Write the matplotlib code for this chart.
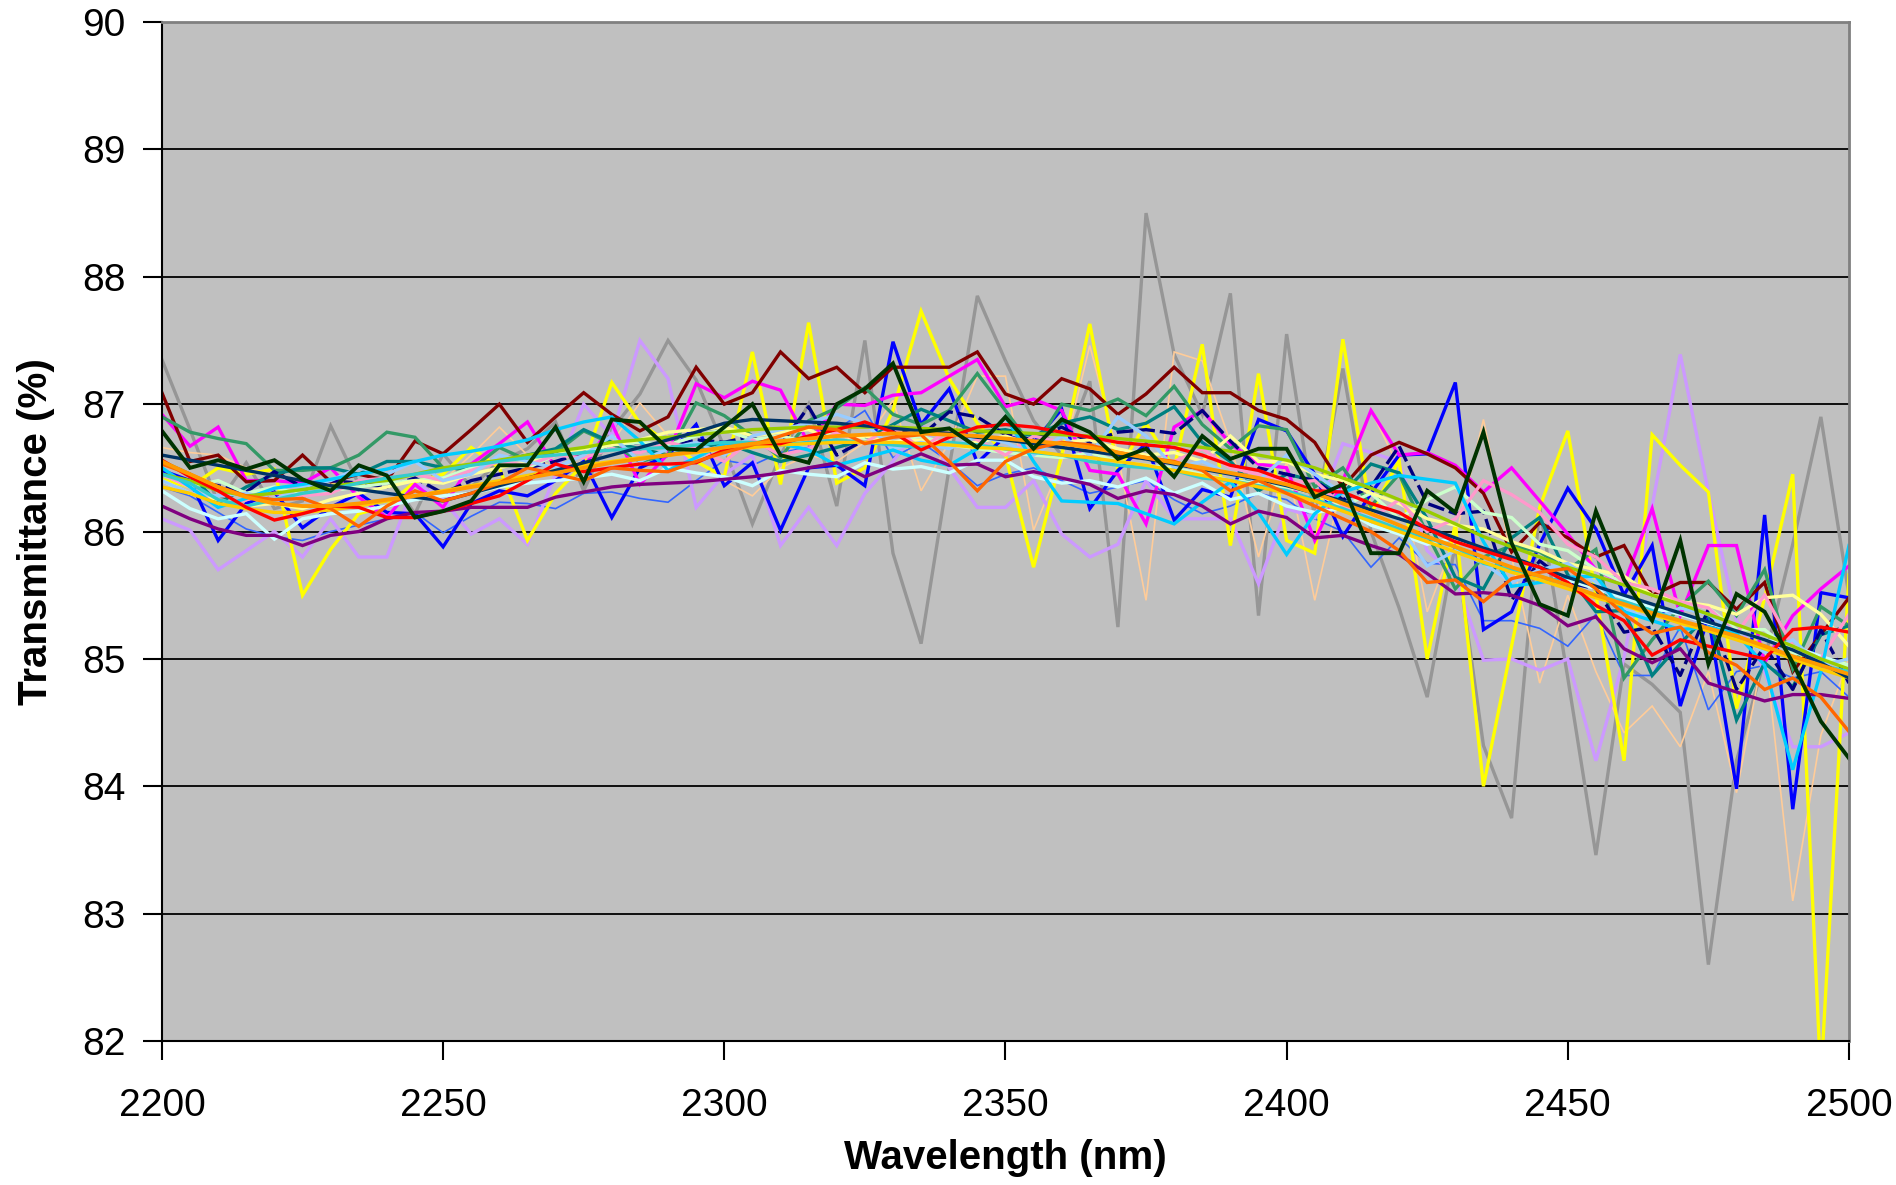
"""
NIR transmittance spectra, 2200-2500 nm.

Many overlaid sample spectra on an Excel-style grey plot area.
"""

import numpy as np
import matplotlib
import matplotlib.pyplot as plt

matplotlib.use("Agg")

# wavelength axis (nm), one reading every 5 nm
wavelength = np.arange(2200, 2501, 5)

# --- noisy spectra ---
gray = [
    87.35, 86.80, 86.22, 86.54, 86.18, 86.24, 86.83, 86.37, 86.45, 86.14,
    86.61, 86.35, 86.55, 86.65, 86.86, 86.32, 86.80, 87.08, 87.50, 87.19,
    86.66, 86.06, 86.60, 87.00, 86.20, 87.50, 85.83, 85.12, 86.50, 87.85,
    87.34, 86.87, 86.60, 87.18, 85.25, 88.50, 87.39, 86.92, 87.87, 85.34,
    87.55, 86.10, 87.28, 86.00, 85.40, 84.70, 85.90, 84.32, 83.75, 86.19,
    84.85, 83.46, 84.96, 84.80, 84.58, 82.60, 84.20, 85.00, 85.90, 86.90,
    85.50,
]
yellow = [
    86.41, 86.35, 86.50, 86.45, 86.49, 85.50, 85.86, 86.14, 86.20, 86.39,
    86.45, 86.66, 86.50, 85.93, 86.30, 86.53, 87.17, 86.85, 86.70, 86.55,
    86.43, 87.41, 86.37, 87.64, 86.38, 86.50, 86.95, 87.73, 87.20, 86.85,
    86.60, 85.72, 86.60, 87.63, 86.48, 86.85, 86.50, 87.47, 85.89, 87.24,
    85.93, 85.83, 87.51, 86.14, 86.56, 85.00, 86.06, 84.00, 85.10, 86.19,
    86.79, 85.50, 84.20, 86.76, 86.52, 86.31, 84.61, 85.48, 86.45, 81.70,
    85.66,
]
blue = [
    86.48, 86.40, 85.93, 86.22, 86.31, 86.03, 86.19, 86.30, 86.15, 86.14,
    85.88, 86.22, 86.32, 86.28, 86.40, 86.55, 86.11, 86.50, 86.60, 86.84,
    86.36, 86.54, 86.01, 86.50, 86.52, 86.36, 87.49, 86.84, 87.12, 86.54,
    86.75, 86.70, 86.96, 86.18, 86.48, 86.69, 86.09, 86.33, 86.27, 86.88,
    86.79, 86.45, 85.96, 86.30, 86.60, 86.61, 87.17, 85.23, 85.37, 85.90,
    86.34, 86.02, 85.50, 85.89, 84.63, 85.33, 83.98, 86.13, 83.82, 85.52,
    85.48,
]
dark_green = [
    86.79, 86.50, 86.56, 86.49, 86.56, 86.41, 86.32, 86.52, 86.44, 86.11,
    86.16, 86.24, 86.52, 86.52, 86.82, 86.39, 86.88, 86.86, 86.65, 86.64,
    86.82, 87.00, 86.60, 86.54, 87.00, 87.12, 87.32, 86.78, 86.81, 86.66,
    86.90, 86.65, 86.88, 86.78, 86.57, 86.65, 86.43, 86.75, 86.57, 86.65,
    86.65, 86.27, 86.37, 85.83, 85.83, 86.32, 86.15, 86.78, 85.91, 85.43,
    85.34, 86.16, 85.62, 85.30, 85.93, 84.96, 85.51, 85.37, 84.97, 84.51,
    84.22,
]
maroon = [
    87.09, 86.55, 86.60, 86.39, 86.40, 86.60, 86.39, 86.45, 86.40, 86.71,
    86.61, 86.80, 87.00, 86.70, 86.90, 87.09, 86.92, 86.79, 86.90, 87.29,
    87.00, 87.09, 87.41, 87.20, 87.29, 87.09, 87.29, 87.29, 87.29, 87.41,
    87.08, 87.00, 87.20, 87.12, 86.92, 87.08, 87.29, 87.09, 87.09, 86.95,
    86.88, 86.70, 86.35, 86.60, 86.70, 86.61, 86.50, 86.30, 85.84, 86.07,
    85.95, 85.80, 85.89, 85.50, 85.60, 85.60, 85.39, 85.60, 84.90, 85.19,
    85.48,
]
magenta = [
    86.92, 86.67, 86.82, 86.40, 86.40, 86.38, 86.50, 86.27, 86.11, 86.37,
    86.19, 86.53, 86.69, 86.86, 86.50, 86.50, 86.85, 86.37, 86.61, 87.16,
    87.05, 87.18, 87.11, 86.69, 87.00, 86.99, 87.07, 87.09, 87.22, 87.35,
    86.98, 87.04, 86.95, 86.48, 86.45, 86.06, 86.82, 86.95, 86.69, 86.53,
    86.50, 85.93, 86.40, 86.95, 86.60, 86.62, 86.52, 86.31, 86.50, 86.24,
    85.98, 85.70, 85.59, 86.18, 85.34, 85.89, 85.89, 84.97, 85.34, 85.55,
    85.73,
]
lavender = [
    86.10, 86.01, 85.70, 85.85, 86.00, 85.80, 86.10, 85.80, 85.80, 86.39,
    86.25, 85.98, 86.10, 85.90, 86.45, 87.00, 86.75, 87.50, 87.20, 86.19,
    86.45, 86.60, 85.89, 86.19, 85.89, 86.30, 86.55, 86.85, 86.50, 86.19,
    86.19, 86.40, 85.98, 85.80, 85.90, 86.40, 86.10, 86.10, 86.10, 85.59,
    86.18, 86.11, 86.69, 86.62, 86.55, 85.85, 85.65, 84.99, 85.00, 84.91,
    85.00, 84.20, 85.01, 86.20, 87.39, 86.31, 85.30, 84.90, 84.31, 84.31,
    84.42,
]
sea_green = [
    86.90, 86.78, 86.73, 86.69, 86.48, 86.48, 86.50, 86.60, 86.78, 86.74,
    86.50, 86.49, 86.66, 86.56, 86.62, 86.79, 86.69, 86.55, 86.60, 87.01,
    86.91, 86.75, 86.58, 86.87, 86.97, 87.13, 86.92, 86.84, 86.95, 87.24,
    86.95, 86.65, 87.00, 86.95, 87.04, 86.91, 87.14, 86.84, 86.65, 86.83,
    86.80, 86.35, 86.50, 86.20, 86.45, 85.98, 85.55, 85.80, 85.89, 85.84,
    85.70, 85.86, 84.85, 85.15, 85.41, 85.61, 85.34, 85.70, 84.92, 85.41,
    85.26,
]
teal = [
    86.55, 86.45, 86.22, 86.35, 86.45, 86.50, 86.50, 86.45, 86.55, 86.55,
    86.50, 86.50, 86.55, 86.60, 86.65, 86.80, 86.70, 86.65, 86.60, 86.65,
    86.70, 86.62, 86.55, 86.60, 86.66, 86.72, 86.84, 86.96, 86.87, 86.78,
    86.80, 86.75, 86.85, 86.90, 86.80, 86.85, 86.98, 86.70, 86.55, 86.32,
    86.45, 86.40, 86.30, 86.53, 86.46, 86.10, 85.64, 85.55, 85.95, 86.11,
    85.66, 85.37, 85.38, 84.87, 85.12, 85.35, 84.52, 84.97, 84.78, 85.19,
    85.26,
]
navy = [
    86.45, 86.40, 86.36, 86.31, 86.47, 86.35, 86.40, 86.38, 86.35, 86.42,
    86.30, 86.40, 86.45, 86.50, 86.55, 86.62, 86.68, 86.70, 86.66, 86.72,
    86.70, 86.75, 86.68, 86.98, 86.60, 86.72, 86.80, 86.75, 86.94, 86.90,
    86.76, 86.72, 86.82, 86.70, 86.78, 86.80, 86.77, 86.95, 86.71, 86.50,
    86.45, 86.40, 86.25, 86.35, 86.67, 86.22, 86.14, 86.16, 85.46, 85.77,
    85.60, 85.55, 85.21, 85.25, 84.87, 85.39, 84.76, 85.10, 84.76, 85.23,
    84.81,
]
peach = [
    86.66, 86.62, 86.60, 86.50, 86.45, 86.40, 86.38, 86.35, 86.45, 86.55,
    86.40, 86.60, 86.82, 86.60, 86.50, 86.55, 86.70, 87.01, 86.75, 86.55,
    86.40, 86.28, 86.50, 86.60, 86.55, 86.70, 87.03, 86.32, 86.70, 87.22,
    87.22, 86.01, 86.55, 87.46, 86.60, 85.46, 87.41, 87.34, 86.70, 85.80,
    86.55, 85.46, 86.40, 86.95, 86.50, 85.37, 85.95, 86.88, 85.80, 84.81,
    85.50, 84.90, 84.42, 84.63, 84.31, 84.90, 83.95, 85.10, 83.10, 84.40,
    85.00,
]
royal_blue = [
    86.35, 86.28, 86.15, 86.02, 85.96, 85.93, 86.00, 86.05, 86.10, 86.15,
    85.99, 86.12, 86.23, 86.22, 86.18, 86.30, 86.31, 86.26, 86.23, 86.40,
    86.56, 86.52, 86.62, 86.66, 86.80, 86.95, 86.58, 86.70, 86.55, 86.36,
    86.45, 86.50, 86.40, 86.30, 86.35, 86.40, 86.25, 86.14, 86.20, 86.30,
    86.25, 86.10, 86.00, 85.72, 85.95, 85.75, 85.74, 85.30, 85.30, 85.24,
    85.10, 85.35, 84.87, 84.87, 85.25, 84.60, 84.90, 84.95, 84.85, 84.90,
    84.70,
]

# --- smoother spectra ---
red = [
    86.56, 86.43, 86.32, 86.19, 86.09, 86.14, 86.20, 86.19, 86.11, 86.11,
    86.16, 86.22, 86.28, 86.40, 86.53, 86.47, 86.50, 86.53, 86.53, 86.54,
    86.64, 86.69, 86.69, 86.75, 86.80, 86.86, 86.78, 86.64, 86.74, 86.82,
    86.84, 86.82, 86.78, 86.74, 86.70, 86.68, 86.66, 86.60, 86.52, 86.48,
    86.40, 86.32, 86.31, 86.22, 86.15, 86.02, 85.92, 85.85, 85.78, 85.72,
    85.60, 85.42, 85.30, 85.03, 85.15, 85.10, 85.05, 85.00, 85.23, 85.25,
    85.21,
]
dark_orange = [
    86.53, 86.45, 86.35, 86.28, 86.25, 86.26, 86.18, 86.04, 86.20, 86.32,
    86.24, 86.30, 86.38, 86.50, 86.45, 86.40, 86.50, 86.48, 86.47, 86.55,
    86.62, 86.68, 86.75, 86.82, 86.80, 86.69, 86.74, 86.76, 86.55, 86.32,
    86.55, 86.65, 86.70, 86.68, 86.62, 86.58, 86.55, 86.48, 86.32, 86.40,
    86.30, 86.20, 86.10, 86.00, 85.85, 85.60, 85.62, 85.45, 85.63, 85.68,
    85.71, 85.55, 85.35, 85.20, 85.25, 85.05, 84.95, 84.76, 84.85, 84.70,
    84.43,
]
dark_slate = [
    86.60, 86.56, 86.52, 86.48, 86.44, 86.40, 86.36, 86.33, 86.30, 86.27,
    86.24, 86.30, 86.36, 86.42, 86.48, 86.54, 86.60, 86.66, 86.72, 86.78,
    86.85, 86.88, 86.87, 86.86, 86.85, 86.83, 86.81, 86.79, 86.77, 86.74,
    86.72, 86.69, 86.66, 86.63, 86.60, 86.57, 86.53, 86.49, 86.45, 86.41,
    86.36, 86.30, 86.24, 86.17, 86.10, 86.03, 85.95, 85.87, 85.80, 85.72,
    85.64, 85.57, 85.50, 85.43, 85.36, 85.29, 85.22, 85.15, 85.07, 84.97,
    84.85,
]
purple = [
    86.20, 86.10, 86.02, 85.97, 85.97, 85.89, 85.97, 86.00, 86.10, 86.15,
    86.16, 86.19, 86.19, 86.19, 86.27, 86.31, 86.35, 86.37, 86.38, 86.39,
    86.41, 86.43, 86.46, 86.50, 86.54, 86.43, 86.52, 86.61, 86.52, 86.53,
    86.43, 86.47, 86.42, 86.37, 86.26, 86.32, 86.29, 86.20, 86.06, 86.16,
    86.11, 85.95, 85.97, 85.89, 85.82, 85.67, 85.51, 85.52, 85.50, 85.42,
    85.26, 85.33, 85.08, 84.97, 85.08, 84.81, 84.74, 84.67, 84.72, 84.72,
    84.69,
]
light_cyan = [
    86.32, 86.18, 86.10, 86.14, 85.94, 86.10, 86.14, 86.16, 86.20, 86.25,
    86.28, 86.30, 86.35, 86.38, 86.40, 86.42, 86.45, 86.40, 86.50, 86.46,
    86.43, 86.36, 86.48, 86.45, 86.43, 86.54, 86.49, 86.51, 86.46, 86.56,
    86.56, 86.43, 86.38, 86.40, 86.35, 86.42, 86.30, 86.38, 86.25, 86.30,
    86.20, 86.15, 86.18, 86.05, 85.98, 85.90, 85.95, 85.85, 85.80, 85.72,
    85.62, 85.55, 85.48, 85.40, 85.35, 85.28, 85.22, 85.15, 85.10, 85.02,
    84.95,
]
sky_blue = [
    86.50, 86.35, 86.19, 86.26, 86.34, 86.37, 86.41, 86.45, 86.49, 86.55,
    86.60, 86.63, 86.67, 86.72, 86.80, 86.86, 86.90, 86.71, 86.48, 86.58,
    86.69, 86.69, 86.69, 86.64, 86.52, 86.58, 86.64, 86.56, 86.52, 86.65,
    86.90, 86.55, 86.24, 86.23, 86.22, 86.14, 86.06, 86.23, 86.39, 86.15,
    85.82, 86.14, 86.31, 86.38, 86.44, 86.41, 86.38, 85.92, 85.57, 85.60,
    85.64, 85.65, 85.37, 85.30, 85.23, 85.25, 85.20, 84.95, 84.13, 84.90,
    85.89,
]
yellow_green = [
    86.45, 86.40, 86.32, 86.28, 86.30, 86.33, 86.36, 86.38, 86.40, 86.45,
    86.50, 86.53, 86.56, 86.60, 86.63, 86.66, 86.70, 86.72, 86.74, 86.76,
    86.78, 86.80, 86.81, 86.82, 86.82, 86.82, 86.82, 86.81, 86.80, 86.79,
    86.78, 86.77, 86.76, 86.75, 86.73, 86.71, 86.69, 86.66, 86.63, 86.60,
    86.56, 86.50, 86.42, 86.34, 86.25, 86.16, 86.06, 85.96, 85.88, 85.80,
    85.72, 85.65, 85.58, 85.50, 85.43, 85.35, 85.27, 85.19, 85.10, 85.00,
    84.92,
]
light_yellow = [
    86.40, 86.30, 86.25, 86.20, 86.22, 86.18, 86.25, 86.30, 86.35, 86.40,
    86.38, 86.45, 86.50, 86.55, 86.60, 86.65, 86.68, 86.72, 86.78, 86.80,
    86.82, 86.75, 86.78, 86.80, 86.70, 86.75, 86.70, 86.72, 86.68, 86.70,
    86.75, 86.68, 86.70, 86.72, 86.65, 86.60, 86.62, 86.55, 86.75, 86.55,
    86.55, 86.45, 86.40, 86.30, 86.22, 86.10, 86.05, 86.02, 85.92, 85.85,
    85.75, 85.70, 85.65, 85.50, 85.45, 85.42, 85.35, 85.48, 85.50, 85.35,
    85.10,
]
pink = [
    86.45, 86.35, 86.20, 86.25, 86.30, 86.28, 86.30, 86.40, 86.42, 86.45,
    86.40, 86.48, 86.55, 86.52, 86.60, 86.58, 86.65, 86.62, 86.70, 86.65,
    86.55, 86.72, 86.60, 86.65, 86.78, 86.70, 86.82, 86.65, 86.80, 86.72,
    86.60, 86.75, 86.70, 86.65, 86.62, 86.58, 86.55, 86.65, 86.50, 86.45,
    86.38, 86.40, 86.20, 86.10, 86.25, 86.00, 86.10, 86.40, 86.29, 86.15,
    85.90, 85.80, 85.60, 85.55, 85.45, 85.40, 85.20, 85.50, 85.10, 85.00,
    85.35,
]
light_blue = [
    86.40, 86.30, 86.28, 86.30, 86.25, 86.35, 86.40, 86.50, 86.45, 86.55,
    86.40, 86.45, 86.60, 86.55, 86.50, 86.60, 86.75, 86.55, 86.65, 86.70,
    86.60, 86.75, 86.80, 86.85, 86.92, 86.85, 86.65, 86.70, 86.65, 86.75,
    86.70, 86.60, 86.75, 86.60, 86.90, 86.75, 86.50, 86.55, 86.45, 86.40,
    86.60, 86.45, 86.30, 86.10, 86.05, 85.73, 85.85, 85.75, 85.60, 85.70,
    85.75, 85.60, 85.40, 85.30, 85.40, 85.35, 85.20, 85.05, 85.15, 84.95,
    85.00,
]
pale_green = [
    86.45, 86.35, 86.40, 86.30, 86.35, 86.28, 86.32, 86.35, 86.38, 86.40,
    86.42, 86.50, 86.55, 86.50, 86.60, 86.62, 86.68, 86.70, 86.68, 86.75,
    86.80, 86.72, 86.75, 86.70, 86.78, 86.72, 86.70, 86.75, 86.68, 86.65,
    86.62, 86.60, 86.58, 86.62, 86.55, 86.52, 86.50, 86.45, 86.40, 86.38,
    86.35, 86.30, 86.20, 86.30, 86.10, 86.25, 86.35, 86.15, 86.11, 85.90,
    85.85, 85.70, 85.60, 85.50, 85.45, 85.40, 85.23, 85.23, 85.05, 85.00,
    84.95,
]
gold = [
    86.35, 86.30, 86.22, 86.18, 86.15, 86.15, 86.17, 86.20, 86.24, 86.28,
    86.32, 86.36, 86.40, 86.44, 86.48, 86.52, 86.55, 86.58, 86.60, 86.62,
    86.65, 86.66, 86.68, 86.69, 86.70, 86.70, 86.70, 86.69, 86.68, 86.66,
    86.65, 86.63, 86.60, 86.58, 86.55, 86.52, 86.48, 86.44, 86.40, 86.35,
    86.30, 86.24, 86.16, 86.08, 86.00, 85.92, 85.84, 85.76, 85.68, 85.62,
    85.55, 85.48, 85.42, 85.35, 85.28, 85.22, 85.15, 85.08, 85.00, 84.92,
    84.85,
]
turquoise = [
    86.45, 86.38, 86.25, 86.20, 86.25, 86.30, 86.33, 86.38, 86.42, 86.45,
    86.48, 86.52, 86.55, 86.58, 86.60, 86.62, 86.64, 86.65, 86.66, 86.68,
    86.70, 86.70, 86.68, 86.70, 86.72, 86.70, 86.68, 86.66, 86.70, 86.68,
    86.65, 86.62, 86.60, 86.55, 86.52, 86.50, 86.48, 86.42, 86.40, 86.36,
    86.32, 86.25, 86.18, 86.10, 86.02, 85.95, 85.88, 85.75, 85.70, 85.65,
    85.58, 85.50, 85.45, 85.38, 85.30, 85.22, 85.16, 85.08, 85.00, 84.95,
    84.90,
]
orange = [
    86.55, 86.45, 86.35, 86.27, 86.22, 86.20, 86.20, 86.22, 86.25, 86.28,
    86.31, 86.35, 86.38, 86.42, 86.46, 86.50, 86.54, 86.57, 86.60, 86.63,
    86.66, 86.69, 86.71, 86.73, 86.75, 86.76, 86.77, 86.77, 86.76, 86.75,
    86.73, 86.71, 86.69, 86.66, 86.62, 86.58, 86.54, 86.50, 86.46, 86.42,
    86.37, 86.30, 86.22, 86.14, 86.05, 85.96, 85.88, 85.80, 85.72, 85.65,
    85.58, 85.50, 85.43, 85.36, 85.30, 85.24, 85.18, 85.10, 85.02, 84.95,
    84.88,
]

y_ticks = [82, 83, 84, 85, 86, 87, 88, 89, 90]
x_ticks = [2200, 2250, 2300, 2350, 2400, 2450, 2500]

FONT = ["Liberation Sans", "DejaVu Sans"]


def plot_spectra(save_path="out.png"):
    """Overlay all spectra in drawing order (later = on top)."""
    # (series, colour, linewidth, linestyle)
    series = [
        (gray, "#969696", 2.4, "-"),
        (peach, "#FFCC99", 1.2, "-"),
        (royal_blue, "#3366FF", 1.2, "-"),
        (lavender, "#CC99FF", 2.4, "-"),
        (yellow, "#FFFF00", 2.4, "-"),
        (blue, "#0000FF", 2.4, "-"),
        (magenta, "#FF00FF", 2.4, "-"),
        (maroon, "#800000", 2.4, "-"),
        (sea_green, "#339966", 2.4, "-"),
        (teal, "#008080", 2.4, "-"),
        (navy, "#000080", 2.4, (0, (5, 1.5))),
        (light_cyan, "#CCFFFF", 2.4, "-"),
        (pale_green, "#CCFFCC", 2.4, "-"),
        (light_yellow, "#FFFF99", 2.4, "-"),
        (pink, "#FF99CC", 2.4, "-"),
        (light_blue, "#99CCFF", 2.4, "-"),
        (sky_blue, "#00CCFF", 2.4, "-"),
        (purple, "#800080", 2.4, "-"),
        (yellow_green, "#99CC00", 2.4, "-"),
        (turquoise, "#33CCCC", 2.4, "-"),
        (gold, "#FFCC00", 2.4, "-"),
        (dark_slate, "#003366", 2.4, "-"),
        (red, "#FF0000", 2.4, "-"),
        (dark_orange, "#FF6600", 2.4, "-"),
        (orange, "#FF9900", 2.8, "-"),
        (dark_green, "#003300", 2.8, "-"),
    ]

    fig, ax = plt.subplots(figsize=(18.96, 11.85), dpi=100)
    fig.subplots_adjust(left=0.0854, right=0.9752, top=0.9814, bottom=0.1215)
    ax.set_facecolor("#C0C0C0")

    for values, color, lw, ls in series:
        ax.plot(wavelength, values, color=color, linewidth=lw, linestyle=ls,
                solid_joinstyle="miter")

    ax.set_xlim(2200, 2500)
    ax.set_ylim(82, 90)
    ax.set_xticks(x_ticks)
    ax.set_yticks(y_ticks)
    ax.grid(axis="y", color="black", linewidth=1.3)
    ax.set_axisbelow(True)

    for side in ("left", "bottom"):
        ax.spines[side].set_color("black")
        ax.spines[side].set_linewidth(1.5)
    for side in ("top", "right"):
        ax.spines[side].set_color("#808080")
        ax.spines[side].set_linewidth(2)

    ax.tick_params(direction="out", length=14, width=1.5)
    ax.tick_params(axis="x", pad=20)
    ax.tick_params(axis="y", pad=12)
    for lab in ax.get_xticklabels() + ax.get_yticklabels():
        lab.set_family(FONT)
        lab.set_fontsize(28)

    ax.set_xlabel("Wavelength (nm)", family=FONT, fontsize=29,
                  fontweight="bold")
    ax.set_ylabel("Transmittance (%)", family=FONT, fontsize=29,
                  fontweight="bold")
    ax.xaxis.set_label_coords(0.5, -0.1147)
    ax.yaxis.set_label_coords(-0.0747, 0.5)
    ax.xaxis.label.set_va("center")
    ax.yaxis.label.set_va("center")

    plt.savefig(save_path, dpi=100)
    plt.close()


if __name__ == "__main__":
    plot_spectra()
